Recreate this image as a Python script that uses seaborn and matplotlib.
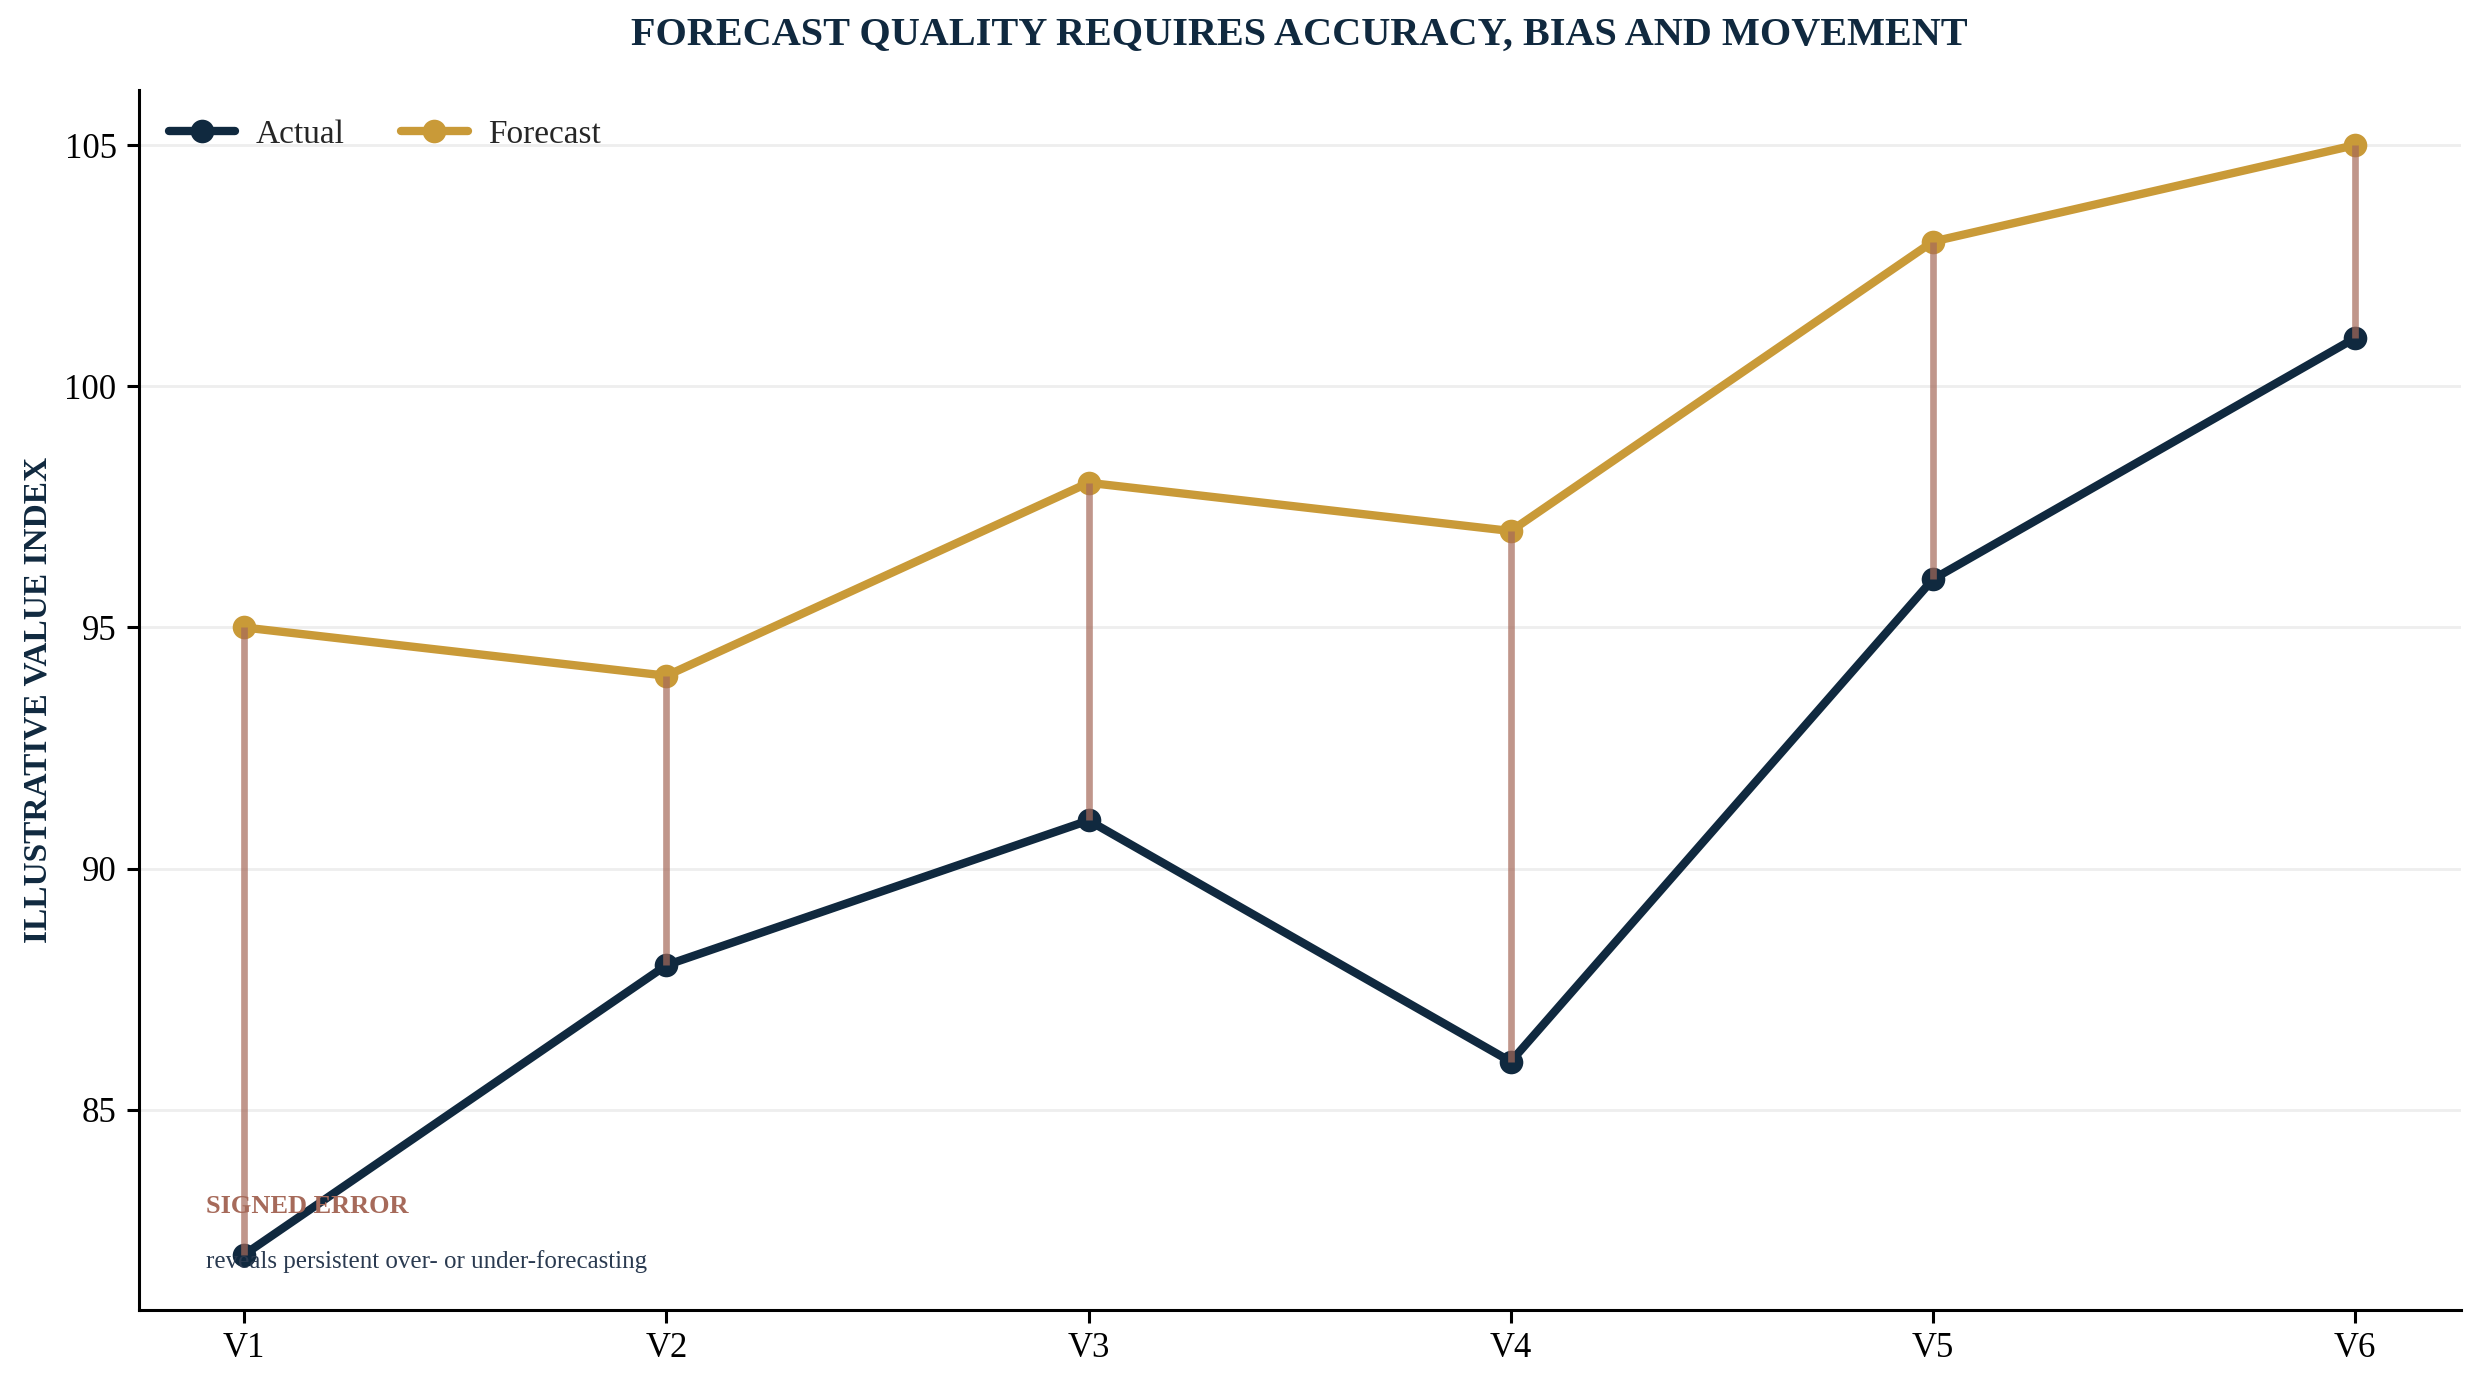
import numpy as np
import pandas as pd
import matplotlib
matplotlib.use('Agg')
import matplotlib.pyplot as plt
import seaborn as sns

# ── Data ───────────────────────────────────────────────────────────────────────
versions = ['V1', 'V2', 'V3', 'V4', 'V5', 'V6']
actual = [82, 88, 91, 86, 96, 101]
forecast = [95, 94, 98, 97, 103, 105]

NAVY = '#10293F'
GOLD = '#C99A38'
ERR = '#A66A5A'

sns.set_theme(style='white')
plt.rcParams['font.family'] = ['Liberation Serif', 'DejaVu Serif']

df = pd.DataFrame({
    'version': versions * 2,
    'x': list(range(len(versions))) * 2,
    'value': actual + forecast,
    'series': ['Actual'] * len(versions) + ['Forecast'] * len(versions),
})

fig, ax = plt.subplots(figsize=(12.39, 6.895), dpi=200)

sns.lineplot(data=df, x='x', y='value', hue='series',
             palette={'Actual': NAVY, 'Forecast': GOLD},
             marker='o', markersize=8.5, markeredgewidth=0,
             linewidth=3, ax=ax, legend=True)

# signed error bars between forecast and actual
xs = np.arange(len(versions))
ax.vlines(xs, actual, forecast, color=ERR, alpha=0.7, linewidth=2.4, zorder=5)

ax.set_xticks(xs)
ax.set_xticklabels(versions)
ax.set_xlim(-0.25, 5.25)
ax.tick_params(axis='both', labelsize=12.5, colors='black', length=4.5, width=1.1,
               direction='out', bottom=True, left=True)
ax.set_xlabel('')
ax.set_ylabel('ILLUSTRATIVE VALUE INDEX', fontsize=12, fontweight='bold', color=NAVY)

ax.yaxis.grid(True, color='#EEEEEE', linewidth=1)
ax.xaxis.grid(False)
sns.despine(ax=ax)
for s in ['left', 'bottom']:
    ax.spines[s].set_color('black')
    ax.spines[s].set_linewidth(1.1)

ax.set_title('FORECAST QUALITY REQUIRES ACCURACY, BIAS AND MOVEMENT',
             fontsize=14.5, fontweight='bold', color=NAVY, pad=16)

leg = ax.legend(loc='upper left', ncol=2, frameon=False, fontsize=12,
                handlelength=2.0, handletextpad=0.6, columnspacing=1.7,
                borderaxespad=0.5)

ax.text(0.029, 0.085, 'SIGNED ERROR', transform=ax.transAxes, fontsize=9.5,
        fontweight='bold', color=ERR, va='center')
ax.text(0.029, 0.04, 'reveals persistent over- or under-forecasting',
        transform=ax.transAxes, fontsize=9, color='#2A3A50', va='center')

plt.subplots_adjust(left=0.056, right=0.993, top=0.935, bottom=0.05)
plt.savefig('out.png', dpi=200)
plt.close()
